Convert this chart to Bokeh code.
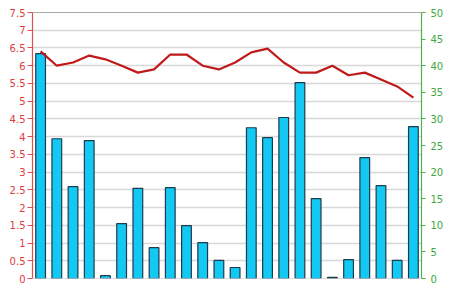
from bokeh.plotting import figure
from bokeh.models import Range1d, LinearAxis, SingleIntervalTicker, Span, ColumnDataSource
from bokeh.embed import file_html
from bokeh.resources import INLINE

bar_values = [6.34, 3.94, 2.59, 3.89, 0.08, 1.55, 2.54, 0.87, 2.56, 1.49, 1.01, 0.51,
              0.31, 4.25, 3.97, 4.54, 5.52, 2.25, 0.03, 0.53, 3.41, 2.62, 0.51, 4.28]
line_values = [42.7, 40.0, 40.6, 41.9, 41.2, 40.0, 38.7, 39.3, 42.1, 42.1, 40.0, 39.3,
               40.6, 42.5, 43.2, 40.6, 38.7, 38.7, 40.0, 38.2, 38.7, 37.4, 36.1, 34.0]
x_index = list(range(len(bar_values)))

src = ColumnDataSource(dict(x=x_index, bar=bar_values, line=line_values))

p = figure(width=450, height=291, output_backend="svg", toolbar_location=None,
           x_range=Range1d(-0.5, len(bar_values) - 0.5), y_range=Range1d(0, 7.5),
           min_border_left=32, min_border_right=29, min_border_top=12, min_border_bottom=13)
p.extra_y_ranges = {"right": Range1d(0, 50)}
p.outline_line_color = None
p.background_fill_color = "white"
p.border_fill_color = "white"

p.xaxis.visible = False
p.xgrid.visible = False
p.ygrid.ticker = SingleIntervalTicker(interval=0.5)
p.ygrid.grid_line_color = "#d8d8d8"
p.ygrid.grid_line_width = 1.5

ax = p.yaxis[0]
ax.ticker = SingleIntervalTicker(interval=0.5)
ax.axis_line_color = "#e05050"
ax.axis_line_width = 1.2
ax.major_tick_line_color = "#e05050"
ax.major_tick_out = 5
ax.major_tick_in = 0
ax.minor_tick_line_color = None
ax.major_label_text_color = "#e03c3c"
ax.major_label_text_font = "DejaVu Sans"
ax.major_label_text_font_size = "10px"
ax.major_label_standoff = 2

rax = LinearAxis(y_range_name="right", ticker=SingleIntervalTicker(interval=5))
rax.axis_line_color = "#50b050"
rax.axis_line_width = 1.2
rax.major_tick_line_color = "#50b050"
rax.major_tick_out = 4
rax.major_tick_in = 0
rax.minor_tick_line_color = None
rax.major_label_text_color = "#3ea83e"
rax.major_label_text_font = "DejaVu Sans"
rax.major_label_text_font_size = "10px"
rax.major_label_standoff = 5
p.add_layout(rax, "right")

p.vbar(x="x", top="bar", width=0.6, bottom=0, source=src,
       fill_color="#14c8f4", line_color="#1c3c4c", line_width=1.2)
p.line(x="x", y="line", source=src, y_range_name="right",
       line_color="#c01a1a", line_width=2.2)

p.add_layout(Span(location=7.5, dimension="width", line_color="#555555", line_width=1.2))
p.add_layout(Span(location=0, dimension="width", line_color="#bbbbbb", line_width=1.2))

open("out.html", "w").write(file_html(p, INLINE))
